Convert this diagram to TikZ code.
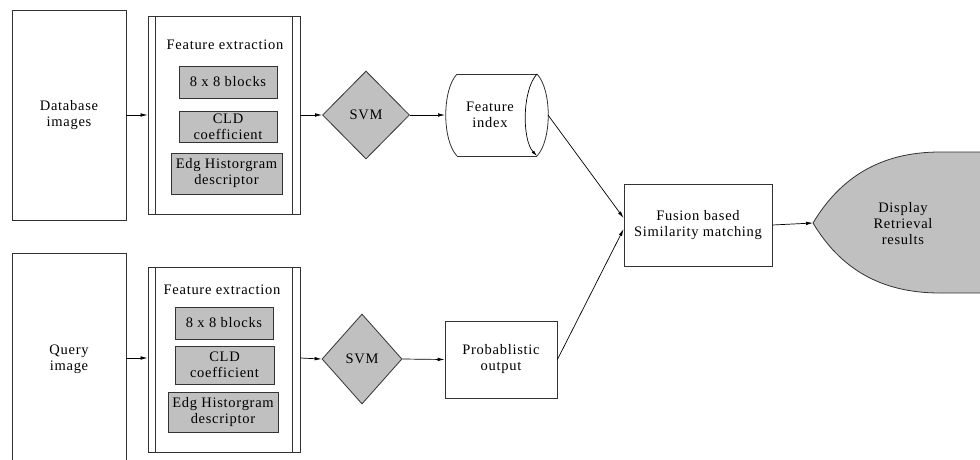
\documentclass[tikz,border=0pt]{standalone}
\usepackage{fontspec}
\setmainfont{Liberation Serif}
\newfontfamily\diagfont{Liberation Serif}[LetterSpace=5.0]
\usetikzlibrary{shapes.geometric,arrows.meta}
\definecolor{boxgray}{HTML}{C0C0C0}
\definecolor{linec}{HTML}{333333}
\tikzset{
  every node/.style={font=\diagfont\fontsize{14.5}{16}\selectfont, align=center, inner sep=0pt},
  plainbox/.style={draw=linec, line width=0.8pt, rectangle},
  graybox/.style={draw=linec, line width=0.8pt, rectangle, fill=boxgray},
  svmbox/.style={draw=linec, line width=0.8pt, diamond, fill=boxgray, minimum width=87pt, minimum height=88pt, aspect=1},
  conn/.style={draw=black, line width=0.7pt, -{Latex[length=7pt,width=3.6pt]}},
  plainline/.style={draw=linec, line width=0.8pt}
}
\begin{document}
\begin{tikzpicture}[x=1pt,y=-1pt]
\useasboundingbox (0,0) rectangle (980,459);

% ---------- top row ----------
\node[plainbox, minimum width=114pt, minimum height=210pt] (db) at (69,115) {Database\\images};
\node[plainbox, minimum width=152pt, minimum height=198pt] (fe1) at (224,115) {};
\draw[plainline] ([xshift=8pt]fe1.north west) -- ([xshift=8pt]fe1.south west);
\draw[plainline] ([xshift=-8pt]fe1.north east) -- ([xshift=-8pt]fe1.south east);
\node (fe1t) at (225,45) {Feature extraction};
\node[graybox, minimum width=98pt, minimum height=32pt] (b1) at (228,82) {8 x 8 blocks};
\node[graybox, minimum width=98pt, minimum height=31pt] (c1) at (228,126.5) {CLD\\coefficient};
\node[graybox, minimum width=111pt, minimum height=41pt] (e1) at (226.5,173.5) {Edg Historgram\\descriptor};
\node[svmbox] (svm1) at (366,115) {SVM};

% cylinder
\fill[white] (457,74) -- (537,74) -- (537,156) -- (457,156) .. controls (442,140) and (442,90) .. (457,74);
\draw[plainline] (457,74) -- (537,74);
\draw[plainline] (457,156) -- (537,156);
\draw[plainline] (457,74) .. controls (442,90) and (442,140) .. (457,156);
\draw[plainline] (537,74) .. controls (552,90) and (552,140) .. (537,156);
\draw[line width=0.7pt, draw=black, -{Latex[length=6pt,width=3.2pt]}] (537,74) .. controls (522,90) and (522,140) .. (537,156);
\node (fi) at (490,115) {Feature\\index};
\coordinate (fiE) at (548,115);
\coordinate (fiW) at (445,115);

% ---------- bottom row ----------
\node[plainbox, minimum width=114pt, minimum height=212pt] (qi) at (69,359) {Query\\image};
\node[plainbox, minimum width=152pt, minimum height=185pt] (fe2) at (224,359.5) {};
\draw[plainline] ([xshift=8pt]fe2.north west) -- ([xshift=8pt]fe2.south west);
\draw[plainline] ([xshift=-8pt]fe2.north east) -- ([xshift=-8pt]fe2.south east);
\node (fe2t) at (222,290) {Feature extraction};
\node[graybox, minimum width=98pt, minimum height=32pt] (b2) at (224,323) {8 x 8 blocks};
\node[graybox, minimum width=99pt, minimum height=38pt] (c2) at (224.5,365) {CLD\\coefficient};
\node[graybox, minimum width=110pt, minimum height=40pt] (e2) at (223,412) {Edg Historgram\\descriptor};
\node[svmbox, minimum width=80pt, minimum height=90pt] (svm2) at (362,359) {SVM};
\node[plainbox, minimum width=112pt, minimum height=77pt] (po) at (501,359.5) {Probablistic\\output};

% ---------- right side ----------
\node[plainbox, minimum width=148pt, minimum height=82pt] (fu) at (698,225) {Fusion based\\Similarity matching};

\fill[boxgray] (813,223) .. controls (840,178) and (880,152) .. (940,152) -- (980,152) -- (980,293) -- (940,293) .. controls (880,293) and (840,268) .. (813,223) -- cycle;
\draw[plainline] (980,152) -- (940,152) .. controls (880,152) and (840,178) .. (813,223) .. controls (840,268) and (880,293) .. (940,293) -- (980,293);
\node (dr) at (903,224) {Display\\Retrieval\\results};
\coordinate (drW) at (813,223);

% ---------- connectors ----------
\draw[conn] (db.east |- 0,115) -- (fe1.west |- 0,115);
\draw[conn] (fe1.east |- 0,115) -- (svm1.west);
\draw[conn] (svm1.east) -- (fiW);
\draw[conn] (fiE) -- ([yshift=7pt]fu.west);
\draw[conn] (qi.east |- 0,358) -- (fe2.west |- 0,358);
\draw[conn] (fe2.east |- 0,358) -- (svm2.west);
\draw[conn] (svm2.east) -- (po.west);
\draw[conn] (po.east) -- ([yshift=-4pt]fu.west);
\draw[conn] (fu.east) -- (drW);
\end{tikzpicture}
\end{document}
